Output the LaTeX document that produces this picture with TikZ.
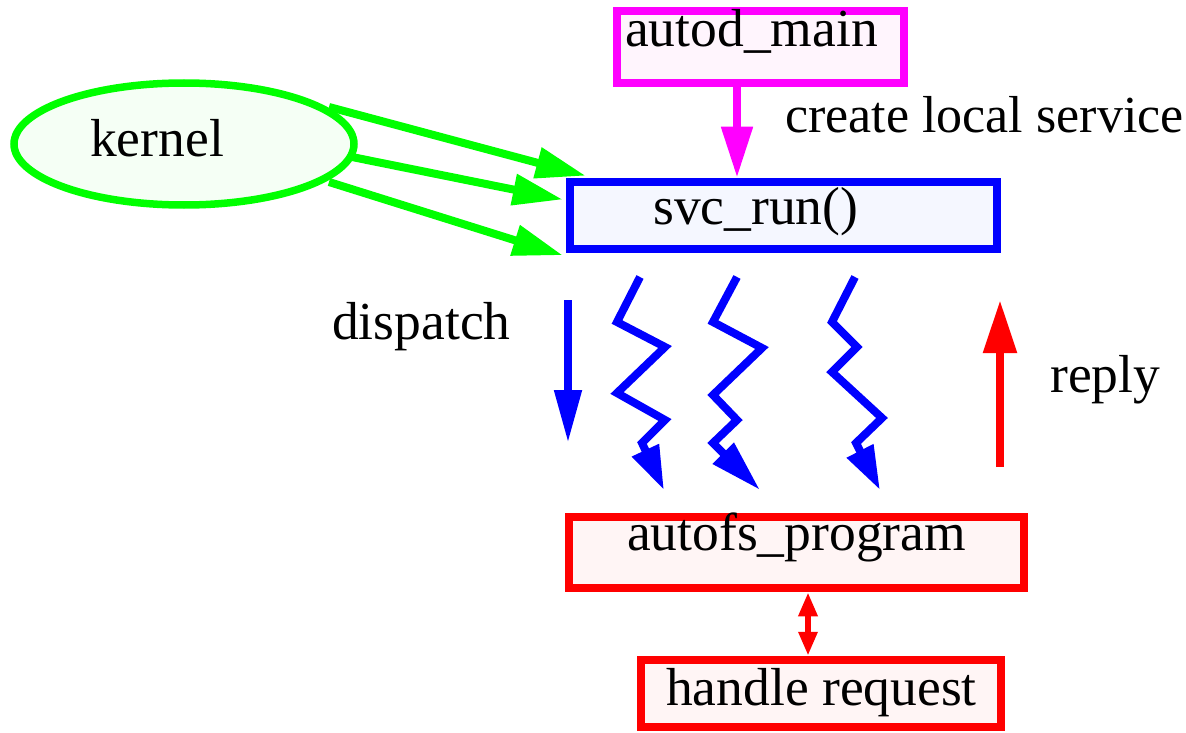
\documentclass[tikz,border=0pt]{standalone}
\usepackage{fontspec}
\setmainfont{Liberation Serif}
\usetikzlibrary{arrows.meta,shapes.geometric,calc}
\definecolor{mgreen}{HTML}{00FF00}
\definecolor{mblue}{HTML}{0000FF}
\definecolor{mred}{HTML}{FF0000}
\definecolor{mmag}{HTML}{FF00FF}
\definecolor{fpink}{HTML}{FFF5FD}
\definecolor{fblue}{HTML}{F5F7FF}
\definecolor{fred}{HTML}{FFF5F5}
\definecolor{fgreen}{HTML}{F5FFF5}
\begin{document}
\begin{tikzpicture}[x=1pt,y=-1pt,
  box/.style={draw,rectangle,line width=8.5pt,inner sep=0pt},
  lbl/.style={anchor=base west,inner sep=0pt,font=\fontsize{53.5}{60}\selectfont},
  bigtip/.style={-{Triangle[length=50pt,width=30pt]}},
  bolt/.style={line width=8pt,mblue,-{Triangle[length=#1,width=28pt]}},
]
\useasboundingbox (0,0) rectangle (1186,733);
% boxes
\node[box,mmag,fill=fpink,minimum width=287pt,minimum height=72pt] (main) at (760.5,47) {};
\node[box,mblue,fill=fblue,minimum width=427pt,minimum height=67pt] (svc) at (783.5,215.5) {};
\node[box,mred,fill=fred,minimum width=455pt,minimum height=71pt] (prog) at (796.5,552.5) {};
\node[box,mred,fill=fred,minimum width=360pt,minimum height=67pt] (handle) at (821,693.5) {};
\node[draw=mgreen,fill=fgreen,ellipse,line width=7.5pt,minimum width=340pt,minimum height=122pt,inner sep=0pt] (kernel) at (184,144) {};
% labels
\node[lbl] (tmain) at (625,47) {autod\_main};
\node[lbl] (tsvc) at (653,224) {svc\_run()};
\node[lbl] (tprog) at (627,550) {autofs\_program};
\node[lbl] (thandle) at (666,705) {handle request};
\node[lbl] (tkernel) at (90,157) {kernel};
\node[lbl,font=\fontsize{52}{60}\selectfont] (tcreate) at (785,133) {create local service};
\node[lbl] (tdispatch) at (332,339) {dispatch};
\node[lbl] (treply) at (1050,392) {reply};
% magenta arrow
\draw[mmag,line width=8pt,-{Triangle[length=51pt,width=30pt]}] (main.south -| 737,0) -- (svc.north -| 737,0);
% green arrows
\draw[mgreen,line width=8pt,bigtip] ($(kernel.center)+(145,-37)$) -- ($(svc.north west)+(20,-2)$);
\draw[mgreen,line width=8pt,bigtip] ($(kernel.center)+(168,13)$) -- ($(svc.west)+(-3,-16)$);
\draw[mgreen,line width=8pt,bigtip] ($(kernel.center)+(145,38)$) -- ($(svc.south west)+(-3,2)$);
% dispatch arrow
\coordinate (d0) at (568,300);
\coordinate (d1) at (568,443);
\draw[mblue,line width=8pt,-{Triangle[length=53pt,width=26pt]}] (d0) -- (d1);
% lightning bolts
\coordinate (a0) at (640,277);
\coordinate (a1) at (664,490);
\draw[bolt=44pt] (a0) -- (617,322) -- (665,347) -- (617,393) -- (665,420) -- (642,443) -- (a1);
\coordinate (b0) at (737,277);
\coordinate (b1) at (760,490);
\draw[bolt=52pt] (b0) -- (713,322) -- (762,348) -- (713,395) -- (737,420) -- (713,443) -- (b1);
\coordinate (c0) at (855,277);
\coordinate (c1) at (880,490);
\draw[bolt=44pt] (c0) -- (832,322) -- (857,347) -- (832,372) -- (882,418) -- (856,443) -- (c1);
% reply arrow
\coordinate (r0) at (1000,467);
\coordinate (r1) at (1000,300);
\draw[mred,line width=8.5pt,-{Triangle[length=53pt,width=32pt]}] (r0) -- (r1);
% double arrow
\draw[mred,line width=6pt,{Triangle[length=24pt,width=18pt]}-{Triangle[length=24pt,width=18pt]}] (prog.south -| 808,0) -- (handle.north -| 808,0);
\end{tikzpicture}
\end{document}
